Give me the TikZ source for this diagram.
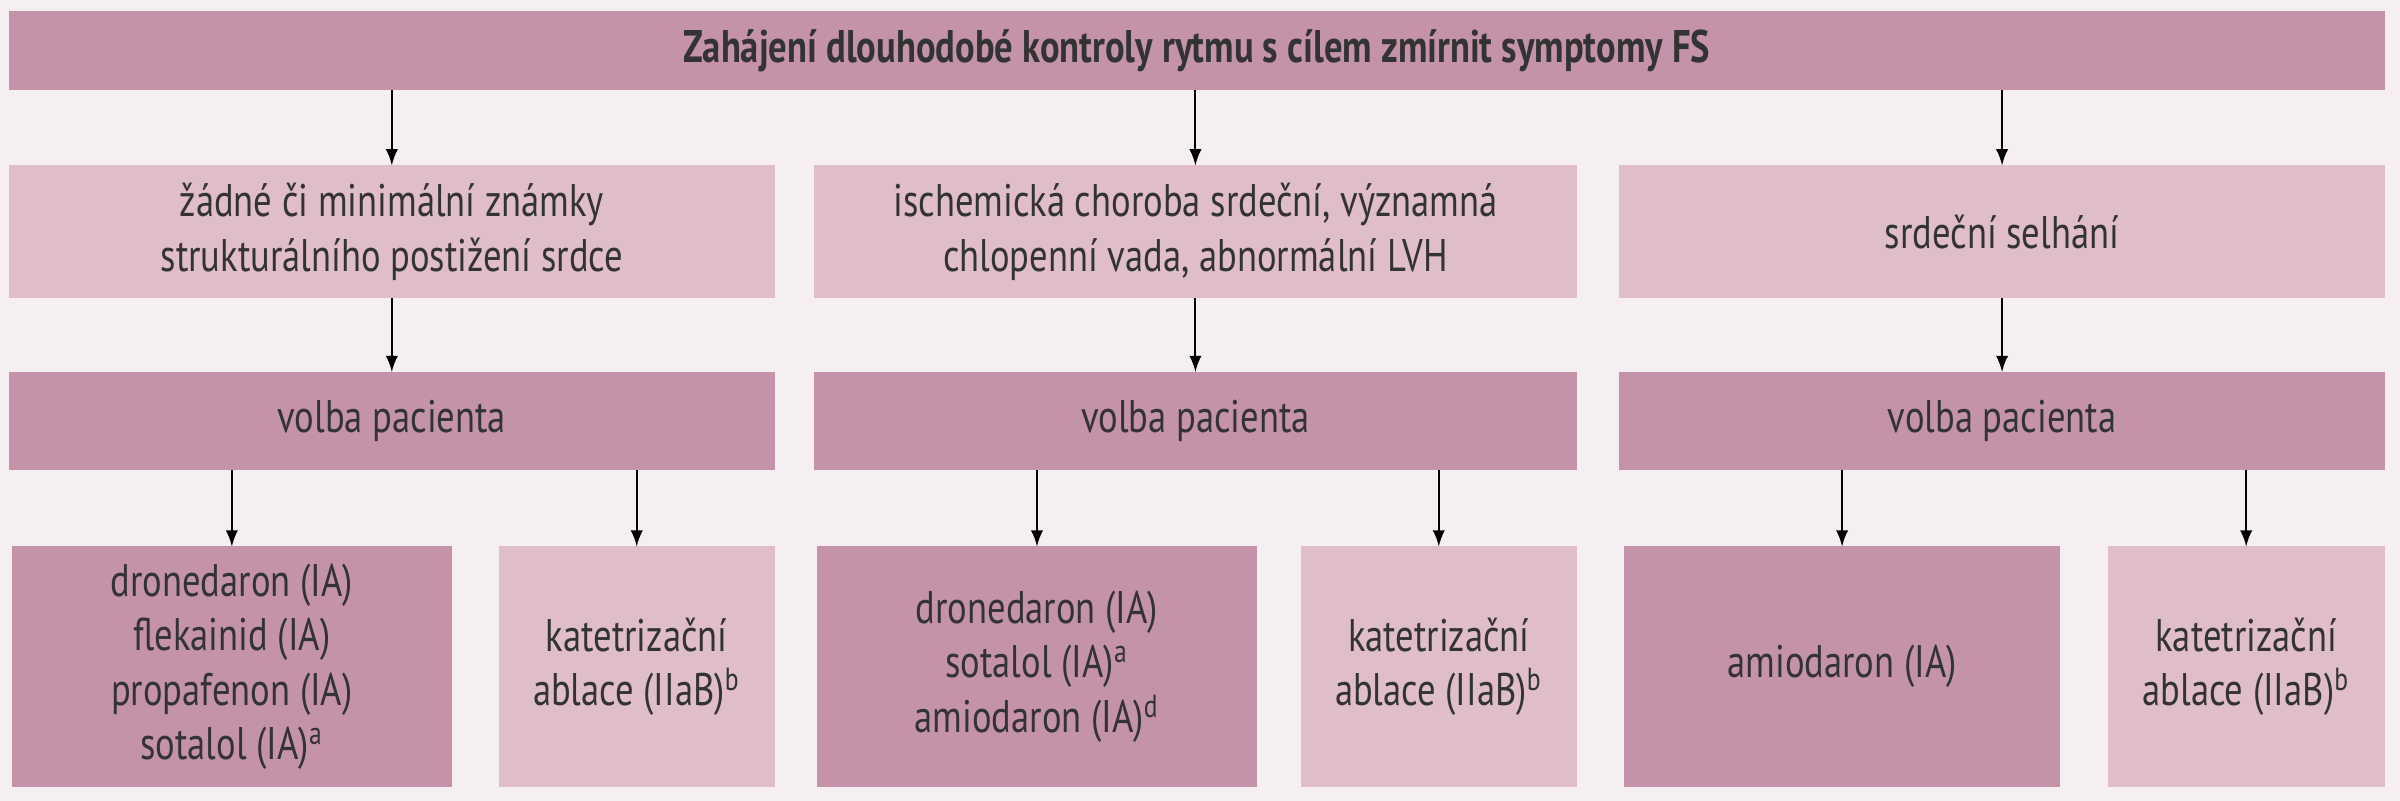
\documentclass[tikz,border=0pt]{standalone}
\usepackage{fontspec}
\setmainfont[FakeStretch=0.8]{PT Sans}
\usetikzlibrary{arrows,positioning}
\definecolor{darkpink}{HTML}{C493AA}
\definecolor{lightpink}{HTML}{DFBDCB}
\definecolor{bgpink}{HTML}{F6EFF1}
\definecolor{txt}{HTML}{333333}
\tikzset{
        block/.style 2 args = {rectangle, inner sep=0pt, outer sep=0pt,
            minimum width=#1*0.01531cm,
            minimum height=#2*0.01531cm,
            align=center, text=txt, font=\fontsize{13}{15.5}\selectfont},
        dark/.style = {fill=darkpink},
        light/.style = {fill=lightpink},
        arrow/.style = {draw, -latex, line width=0.6pt, black},
    }

\begin{document}
\begin{tikzpicture}[x=0.01531cm, y=-0.01531cm]
    \fill[bgpink] (0,0) rectangle (1568,523);
    \useasboundingbox (0,0) rectangle (1568,523);

    % top
    \node[block={1552}{52}, dark, font=\bfseries\fontsize{13}{15.5}\selectfont] (top) at (782,33)
        {Zahájení dlouhodobé kontroly rytmu s cílem zmírnit symptomy FS};

    % diagnosis
    \node[block={500}{87}, light] (d1) at (256,151.5)
        {žádné či minimální známky\\strukturálního postižení srdce};
    \node[block={498}{87}, light] (d2) at (781,151.5)
        {ischemická choroba srdeční, významná\\chlopenní vada, abnormální LVH};
    \node[block={500}{87}, light] (d3) at (1308,151.5) {srdeční selhání};

    % choice
    \node[block={500}{64}, dark] (v1) at (256,275) {volba pacienta};
    \node[block={498}{64}, dark] (v2) at (781,275) {volba pacienta};
    \node[block={500}{64}, dark] (v3) at (1308,275) {volba pacienta};

    % therapy
    \node[block={287}{157}, dark] (t1) at (151.5,435.5)
        {dronedaron (IA)\\flekainid (IA)\\propafenon (IA)\\sotalol (IA)\textsuperscript{a}};
    \node[block={180}{157}, light] (t2) at (416,435.5)
        {katetrizační\\ablace (IIaB)\textsuperscript{b}};
    \node[block={287}{157}, dark] (t3) at (677.5,435.5)
        {dronedaron (IA)\\sotalol (IA)\textsuperscript{a}\\amiodaron (IA)\textsuperscript{d}};
    \node[block={180}{157}, light] (t4) at (940,435.5)
        {katetrizační\\ablace (IIaB)\textsuperscript{b}};
    \node[block={285}{157}, dark] (t5) at (1203.5,435.5) {amiodaron (IA)};
    \node[block={181}{157}, light] (t6) at (1467.5,435.5)
        {katetrizační\\ablace (IIaB)\textsuperscript{b}};

    \foreach \n in {1,2,3} {
        \draw[arrow] (d\n.north |- top.south) -- (d\n.north);
        \draw[arrow] (d\n.south) -- (v\n.north);
    }
    \draw[arrow] (t1.north |- v1.south) -- (t1.north);
    \draw[arrow] (t2.north |- v1.south) -- (t2.north);
    \draw[arrow] (t3.north |- v2.south) -- (t3.north);
    \draw[arrow] (t4.north |- v2.south) -- (t4.north);
    \draw[arrow] (t5.north |- v3.south) -- (t5.north);
    \draw[arrow] (t6.north |- v3.south) -- (t6.north);
\end{tikzpicture}
\end{document}
